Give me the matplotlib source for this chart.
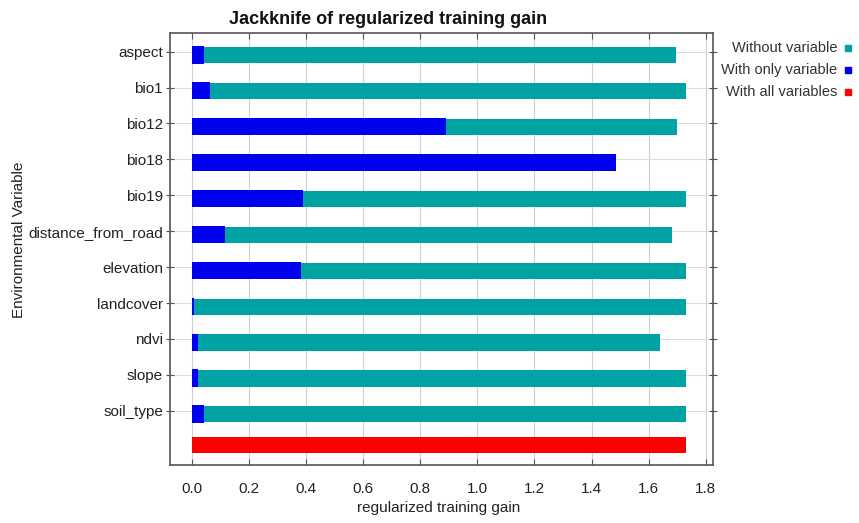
import matplotlib
matplotlib.use("Agg")
import matplotlib.pyplot as plt
import numpy as np

plt.rcParams['font.family'] = ['Liberation Sans', 'DejaVu Sans']

variables = ["aspect", "bio1", "bio12", "bio18", "bio19", "distance_from_road",
             "elevation", "landcover", "ndvi", "slope", "soil_type"]
without_var = [1.694, 1.730, 1.700, 1.460, 1.730, 1.682, 1.730, 1.730, 1.639, 1.730, 1.730]
only_var = [0.043, 0.064, 0.890, 1.485, 0.391, 0.117, 0.383, 0.009, 0.023, 0.023, 0.043]
all_vars = 1.730
xticks = [0.0, 0.2, 0.4, 0.6, 0.8, 1.0, 1.2, 1.4, 1.6, 1.8]

teal = "#00A3A3"
blue = "#0000F0"
red = "#FF0000"

fig = plt.figure(figsize=(8.59, 5.23), dpi=100)
ax = fig.add_axes([170/859, 1-465/523, (713-170)/859, (465-33)/523])

n = len(variables)
ypos = np.arange(n)
off = 0.10
ax.barh(ypos + off, without_var, height=0.45, color=teal, zorder=2)
ax.barh(ypos + off - 0.01, only_var, height=0.48, color=blue, zorder=3)
ax.barh([n - 0.05], [all_vars], height=0.46, color=red, zorder=2)

ax.set_ylim(11.51, -0.52)
ax.set_xlim(-0.076, 1.825)
ax.set_yticks(ypos)
ax.set_yticklabels(variables, fontsize=11, color="#222222")
ax.set_xticks(xticks)
ax.set_xticklabels([f"{t:.1f}" for t in xticks], fontsize=11, color="#222222")
ax.xaxis.grid(True, color="#d0d0d0", linewidth=0.8, zorder=0)
ax.yaxis.grid(True, color="#dcdcdc", linewidth=0.8, zorder=0)
ax.tick_params(axis='x', direction='in', top=True, length=4, color="#555555", pad=12)
ax.tick_params(axis='y', direction='inout', right=True, length=6, color="#555555", pad=2)
for s in ax.spines.values():
    s.set_color("#555555")
    s.set_linewidth(1.2)

fig.text(439/859, 1-508/523, "regularized training gain", ha='center', va='center',
         fontsize=11, color="#222222")
fig.text(19/859, 1-240/523, "Environmental Variable", rotation=90, ha='center', va='center',
         fontsize=11, color="#222222")
fig.text(388/859, 1-19/523, "Jackknife of regularized training gain", ha='center', va='center',
         fontsize=13, fontweight='bold', color="#111111")

legend_items = [("Without variable", teal), ("With only variable", blue), ("With all variables", red)]
for i, (lab, col) in enumerate(legend_items):
    yy = 1 - (48 + 22*i)/523
    fig.text(837/859, yy, lab, ha='right', va='center', fontsize=10.5, color="#333333")
    fig.patches.append(plt.Rectangle((845/859, yy - 3/523), 6/859, 6/523,
                                     transform=fig.transFigure, color=col, figure=fig))

fig.savefig("out.png", dpi=100)
